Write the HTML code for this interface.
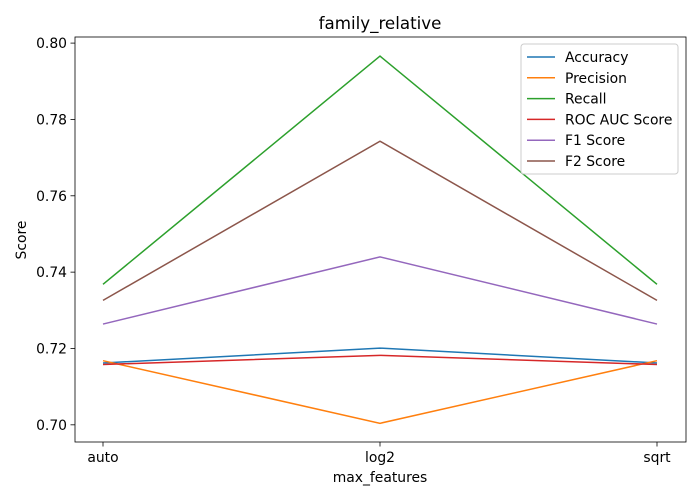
<!DOCTYPE html>
<html><head><meta charset="utf-8"><style>
body{margin:0;background:#fff;font-family:"DejaVu Sans","Liberation Sans",sans-serif}
</style></head><body>
<svg id="chart" width="700" height="500" xmlns="http://www.w3.org/2000/svg" font-family="DejaVu Sans, Liberation Sans, sans-serif"></svg>
<script>
const categories=["auto","log2","sqrt"];
const seriesNames=["Accuracy","Precision","Recall","ROC AUC Score","F1 Score","F2 Score"];
const colors=["#1f77b4","#ff7f0e","#2ca02c","#d62728","#9467bd","#8c564b"];
const accuracy=[0.7162,0.7201,0.7162];
const precision=[0.7168,0.7004,0.7168];
const recall=[0.7368,0.7966,0.7368];
const rocAuc=[0.7158,0.7182,0.7158];
const f1=[0.7264,0.7440,0.7264];
const f2=[0.7326,0.7743,0.7326];
const yTicks=[0.70,0.72,0.74,0.76,0.78,0.80];
const series=[accuracy,precision,recall,rocAuc,f1,f2];
const NS="http://www.w3.org/2000/svg";
const svg=document.getElementById('chart');
const L=75,R=686,T=37,B=442;
const yMin=0.6955,yMax=0.8016;
const FS=13.9;
const x=i=>103+i*(657-103)/(categories.length-1);
const y=v=>B-(v-yMin)/(yMax-yMin)*(B-T);
function mk(tag,attrs,parent){const e=document.createElementNS(NS,tag);for(const k in attrs)e.setAttribute(k,attrs[k]);(parent||svg).appendChild(e);return e;}
let t=mk('text',{x:380,y:29,'text-anchor':'middle','font-size':16.7,fill:'#000'});t.textContent='family_relative';


categories.forEach((c,i)=>{
 mk('line',{x1:x(i),x2:x(i),y1:B,y2:B+4.5,stroke:'#000','stroke-width':0.8});
 const tt=mk('text',{x:x(i),y:B+20,'text-anchor':'middle','font-size':FS,fill:'#000'});tt.textContent=c;
 
 
});
yTicks.forEach(v=>{
 mk('line',{x1:L-4.5,x2:L,y1:y(v),y2:y(v),stroke:'#000','stroke-width':0.8});
 const tt=mk('text',{x:L-8,y:y(v)+5,'text-anchor':'end','font-size':FS,fill:'#000'});tt.textContent=v.toFixed(2);
 
 
});
let xt=mk('text',{x:380,y:482,'text-anchor':'middle','font-size':FS,fill:'#000'});xt.textContent='max_features';


let yt=mk('text',{x:0,y:0,'text-anchor':'middle','font-size':FS,fill:'#000',transform:'translate(26,240) rotate(-90)'});yt.textContent='Score';


series.forEach((s,k)=>{
 const p=mk('polyline',{points:s.map((v,i)=>x(i)+','+y(v)).join(' '),fill:'none',stroke:colors[k],'stroke-width':1.5});
 
 
});
const fr=mk('rect',{x:L,y:T,width:R-L,height:B-T,fill:'none',stroke:'#000','stroke-width':0.8});


const lg=mk('g',{});


mk('rect',{x:521,y:44,width:157,height:130,rx:3,fill:'#fff','fill-opacity':0.8,stroke:'#ccc'},lg);
seriesNames.forEach((n,k)=>{
 const yy=57+k*20.8;
 const e=mk('g',{},lg);
 
 
 mk('line',{x1:527,x2:555,y1:yy,y2:yy,stroke:colors[k],'stroke-width':1.5},e);
 const tx=mk('text',{x:565,y:yy+5,'font-size':FS,fill:'#000'},e);tx.textContent=n;
});
</script>
</body></html>
